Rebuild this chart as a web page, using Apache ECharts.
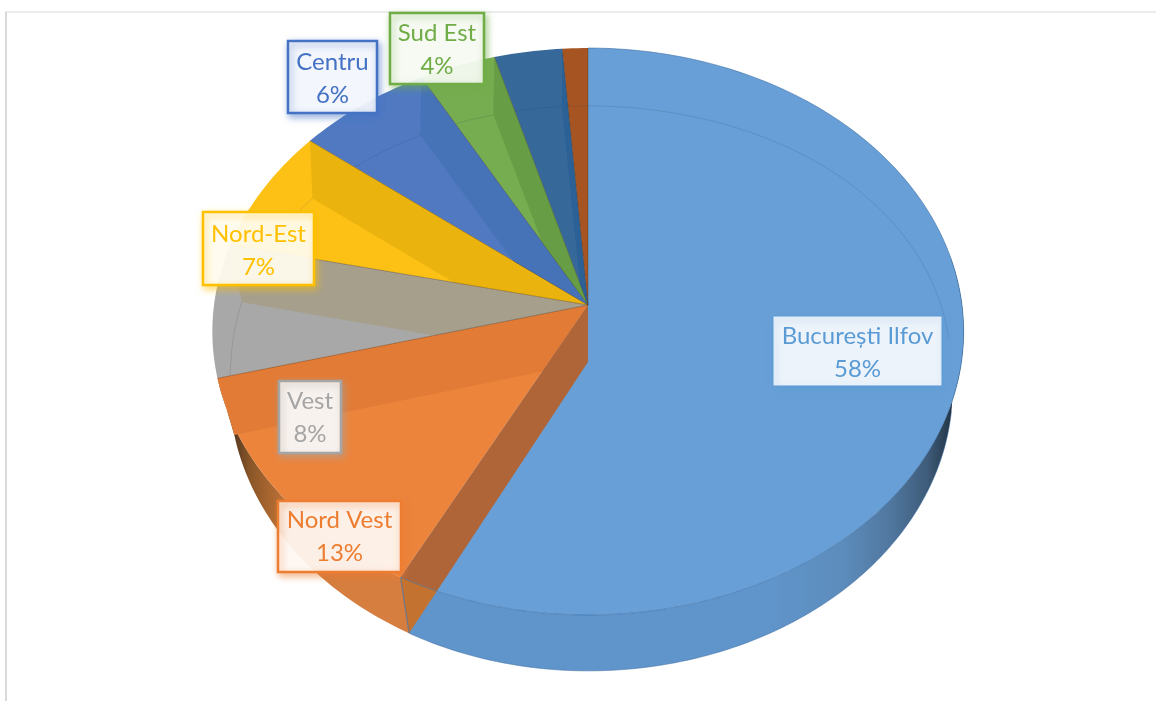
<!DOCTYPE html>
<html><head><meta charset="utf-8">
<style>html,body{margin:0;padding:0;background:#fff}#c{width:1156px;height:701px}</style>
<script src="https://cdn.jsdelivr.net/npm/echarts@6/dist/echarts.min.js"></script>
</head><body><div id="c"></div>
<script>
const categories = ['București Ilfov','Nord Vest','Vest','Nord-Est','Centru','Sud Est','',''];
const shares = [57.6,13.3,7.6,7.1,6.4,3.6,3.2,1.2];

// colours: outline/text, top face, band (inner wall seen through the face)
const labelColors = ['#5B9BD5','#ED7D31','#A5A5A5','#FFC000','#4472C4','#70AD47'];
const faceColors = ['#689FD6','#EC843C','#A8A8A8','#FDC116','#5079C2','#76AD50','#36699A','#A65522'];
const bandColors = ['#689FD6','#E17B36','#A69F8C','#EBB30E','#4672B7','#679E45','#2B6196','#A65522'];

// projection of the tilted disc
const geo = {cx:588, topY:305, botY:362, k:0.0935, kBackX:0.03, topA:374, topB:281, botLeftA:357, botRightA:363, botB:280};
function project(deg, bottom){
  const t = deg*Math.PI/180, u = Math.sin(t), v = Math.cos(t), d = 1+geo.k*v;
  if(bottom){
    const a = u>0 ? geo.botRightA : geo.botLeftA;
    const dx = v>0 ? 1+geo.kBackX*v : d;
    return [geo.cx+a*u/dx, geo.botY-geo.botB*v/d];
  }
  return [geo.cx+geo.topA*u/d, geo.topY-geo.topB*v/d];
}
function arc(a0,a1,bottom){
  const n = Math.max(2,Math.ceil(Math.abs(a1-a0))), out=[];
  for(let i=0;i<=n;i++) out.push(project(a0+(a1-a0)*i/n,bottom));
  return out;
}
function cross(p1,p2,p3,p4){
  const d=(p1[0]-p2[0])*(p3[1]-p4[1])-(p1[1]-p2[1])*(p3[0]-p4[0]);
  if(Math.abs(d)<1e-6) return p2;
  const a=p1[0]*p2[1]-p1[1]*p2[0], b=p3[0]*p4[1]-p3[1]*p4[0];
  return [(a*(p3[0]-p4[0])-(p1[0]-p2[0])*b)/d,(a*(p3[1]-p4[1])-(p1[1]-p2[1])*b)/d];
}
const labelBoxes = [
  {x:773,y:316,w:169,h:70,dy:2},{x:278,y:501,w:123,h:71,dy:0},{x:279,y:381,w:62,h:72,dy:1},
  {x:203,y:212,w:111,h:73,dy:2},{x:288,y:41,w:89,h:72,dy:2},{x:390,y:13,w:94,h:71,dy:1}
];
const total = shares.reduce((a,b)=>a+b,0);
const starts = []; shares.reduce((s,v,i)=>{starts[i]=s;return s+v;},0);
const toDeg = p => p/total*360;

function poly(points,fill,z2,stroke,lw){
  return {type:'polygon',z2,silent:true,shape:{points},
    style:{fill:fill||'none',stroke:stroke||'none',lineWidth:lw||0}};
}
function line(points,stroke,z2,lw){
  return {type:'polyline',z2,silent:true,shape:{points},style:{fill:'none',stroke,lineWidth:lw||1}};
}
function grad(x0,x1,stops){
  return new echarts.graphic.LinearGradient(x0,0,x1,0,stops.map(s=>({offset:s[0],color:s[1]})),true);
}
function renderSlice(params,api){
  const i = params.dataIndex, value = api.value(0);
  const a0 = toDeg(starts[i]), a1 = toDeg(starts[i]+value);
  const apexT=[geo.cx,geo.topY], apexB=[geo.cx,geo.botY];
  const kids=[];
  // outer wall, front part
  if(i===0){
    kids.push(poly(arc(80,a1,false).concat(arc(a1,80,true)),
      grad(770,955,[[0,'#6095CB'],[0.4,'#5C8CBB'],[0.65,'#50779F'],[0.85,'#3F5C7A'],[1,'#1F3040']]),1));
  }
  if(i===1){
    kids.push(poly(arc(a0,a1,false).concat(arc(a1,a0,true)),
      grad(222,335,[[0,'#33261A'],[0.25,'#8A5628'],[0.6,'#C87638'],[1,'#D67D40']]),1));
  }
  // top face
  kids.push(poly([apexT].concat(arc(a0,a1,false)),faceColors[i],2));
  // inner wall seen through the face
  if(i>0){
    const st=project(a1,false), sb=project(a1,true), et=project(a0,false);
    const hit=cross(sb,apexB,et,apexT);
    kids.push(poly([apexT,st,sb,hit],bandColors[i],4));
    kids.push(line([apexT,st],'rgba(70,50,30,0.45)',6,0.8));
  }
  // front wall of the largest slice's closing edge
  if(i===0){
    const t=project(a1,false), b=project(a1,true);
    const hit=cross(t,project(a1-7,false),b,apexB);
    kids.push(poly([apexT,t,hit,apexB],'#AF6538',5));
    kids.push(poly([t,b,hit],'#C4722F',5));
    kids.push(line([t,b],'rgba(90,115,150,0.8)',7,1.2));
    kids.push(line(arc(a0,a1,false),'rgba(55,105,160,0.55)',7,1));
    kids.push(line(arc(100,a1,true),'rgba(55,105,160,0.5)',7,1));
  }
  // rear part of the lower rim, faintly visible through the top
  if(i===0) kids.push(line(arc(-105,85,true),'rgba(30,50,70,0.14)',3,1));
  // label
  if(categories[i]){
    const b=labelBoxes[i], c=labelColors[i];
    kids.push({type:'rect',z2:10,silent:true,shape:{x:b.x,y:b.y,width:b.w,height:b.h},
      style:{fill:'rgba(255,255,255,0.88)',stroke:c,lineWidth:i===0?1:2.5,
        shadowBlur:7,shadowOffsetX:2,shadowOffsetY:3,shadowColor:c+'99'}});
    kids.push({type:'text',z2:11,silent:true,x:b.x+b.w/2,y:b.y+b.h/2+b.dy,
      style:{text:categories[i]+'\n'+Math.round(value)+'%',fill:c,align:'center',verticalAlign:'middle',
        fontFamily:'Lato',fontSize:24,lineHeight:33}});
  }
  return {type:'group',children:kids};
}
const chart = echarts.init(document.getElementById('c'),null,{renderer:'canvas',width:1156,height:701});
chart.setOption({
  animation:false,
  backgroundColor:'#fff',
  graphic:[
    {type:'line',silent:true,shape:{x1:5,y1:12,x2:1156,y2:12},style:{stroke:'#D9D9D9',lineWidth:1}},
    {type:'line',silent:true,shape:{x1:6,y1:12,x2:6,y2:701},style:{stroke:'#D9D9D9',lineWidth:2}}
  ],
  series:[{
    type:'custom',name:'Regiuni',coordinateSystem:'none',renderItem:renderSlice,clip:false,
    encode:{value:0},
    data:shares.map((v,i)=>({name:categories[i],value:[v]}))
  }]
});
</script></body></html>
